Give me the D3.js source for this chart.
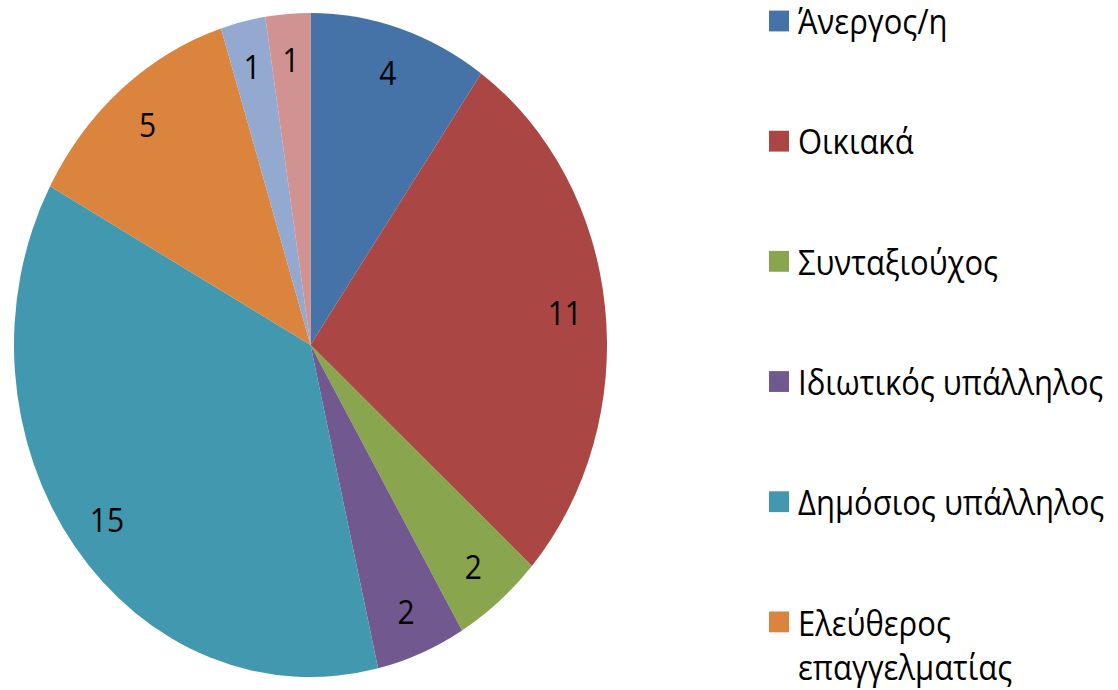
<!DOCTYPE html>
<html>
<head>
<meta charset="utf-8">
<script src="https://cdn.jsdelivr.net/npm/d3@7"></script>
<style>
  body { margin: 0; background: #fff; }
  text { font-family: "Open Sans", "Noto Sans", sans-serif; }
</style>
</head>
<body>
<script>
// pie data, Excel order (clockwise from 12 o'clock)
const categories = [
    "Άνεργος/η",
    "Οικιακά",
    "Συνταξιούχος",
    "Ιδιωτικός υπάλληλος",
    "Δημόσιος υπάλληλος",
    "Ελεύθερος επαγγελματίας",
    "Φοιτητής/τρια",
    "Άλλο"
];
const values = [4, 11, 2, 2, 15, 5, 1, 1];
const colors = ["#4572A7", "#AA4643", "#89A54E", "#71588F", "#4198AF", "#DB843D", "#93A9CF", "#D19392"];

const W = 1118, H = 690;
const SY = 1.12;          // the picture is stretched vertically
const cx = 310.5, cy = 345 / SY, R = 296.5;

const svg = d3.select("body")
              .append("svg")
              .attr("width", W)
              .attr("height", H);

const root = svg.append("g")
                .attr("transform", `scale(1, ${SY})`);

const pie = d3.pie()
              .value(d => d)
              .sort(null);

const arc = d3.arc()
              .innerRadius(0)
              .outerRadius(R);

const labelArc = d3.arc()
                   .innerRadius(256)
                   .outerRadius(256);

const color = d3.scaleOrdinal()
                .domain(categories)
                .range(colors);

const arcs = pie(values);

const pieG = root.append("g")
                 .attr("transform", `translate(${cx},${cy})`);

pieG.selectAll("path")
    .data(arcs)
    .join("path")
    .attr("d", arc)
    .attr("fill", (d, i) => color(categories[i]));

pieG.selectAll("text")
    .data(arcs)
    .join("text")
    .attr("transform", d => `translate(${labelArc.centroid(d)})`)
    .attr("text-anchor", "middle")
    .attr("dominant-baseline", "central")
    .attr("font-size", 30)
    .attr("fill", "#000")
    .text(d => d.data);

// Legend
const legX = 769, legY0 = 18.75, legStep = 107.3, maxW = 330;
const leg = root.append("g");

categories.forEach((name, i) => {
    const y = legY0 + i * legStep;
    leg.append("rect")
       .attr("x", legX)
       .attr("y", y - 9.3)
       .attr("width", 20)
       .attr("height", 18.6)
       .attr("fill", color(name));

    const t = leg.append("text")
                 .attr("x", legX + 29)
                 .attr("y", y)
                 .attr("dominant-baseline", "central")
                 .attr("font-size", 31)
                 .attr("fill", "#000")
                 .text(name);

    // wrap long names onto a second line
    if (t.node().getComputedTextLength() > maxW) {
        const words = name.split(" ");
        t.text(null);
        words.forEach((w, k) => {
            t.append("tspan")
             .attr("x", legX + 29)
             .attr("dy", k === 0 ? 0 : 40)
             .text(w);
        });
    }
});
</script>
</body>
</html>
